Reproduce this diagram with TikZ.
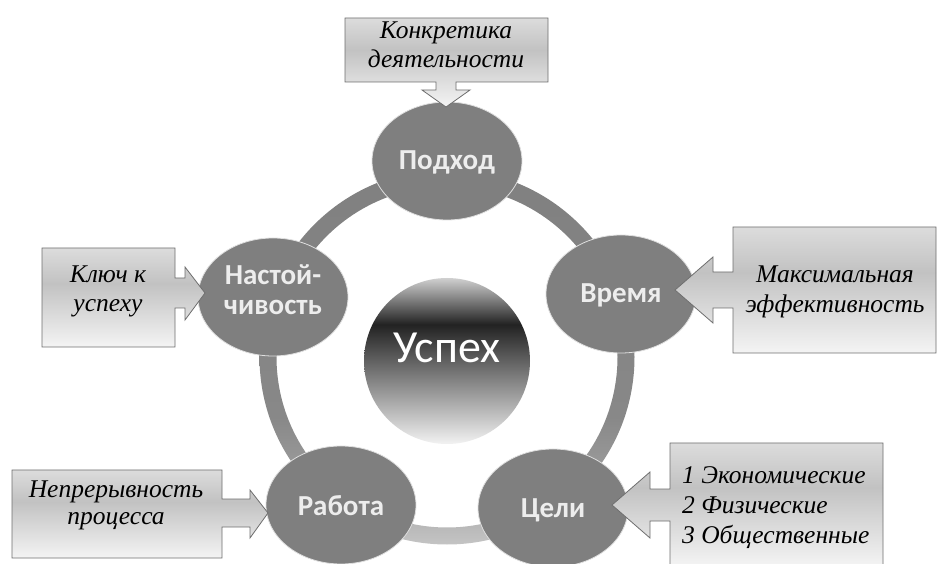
\documentclass[tikz,border=0pt]{standalone}
\usepackage{fontspec}
\setmainfont{Liberation Serif}
\newfontfamily\lbfont{Carlito}
\usetikzlibrary{shapes.geometric}
\definecolor{nodegray}{HTML}{7F7F7F}
\definecolor{labwhite}{HTML}{EDEDED}
\definecolor{bordergray}{HTML}{6E6E6E}
\definecolor{bxtop}{HTML}{DCDCDC}
\definecolor{bxmid}{HTML}{C2C2C2}
\definecolor{bxbot}{HTML}{F4F4F4}
\definecolor{rgbot}{HTML}{C4C4C4}
\definecolor{rglow}{HTML}{A0A0A0}
\definecolor{rgmid}{HTML}{888888}
\definecolor{rgtop}{HTML}{808080}
\definecolor{ctop}{HTML}{D0D0D0}
\definecolor{cdark}{HTML}{222222}
\definecolor{cbot}{HTML}{F2F2F2}
\pgfdeclareverticalshading{boxsh}{100bp}{color(0bp)=(bxbot); color(25bp)=(bxbot); color(57bp)=(bxmid); color(75bp)=(bxtop); color(100bp)=(bxtop)}
\pgfdeclareverticalshading{ringsh}{100bp}{color(0bp)=(rgbot); color(25bp)=(rgbot); color(33bp)=(rglow); color(42bp)=(rgmid); color(75bp)=(rgtop); color(100bp)=(rgtop)}
\pgfdeclareverticalshading{ctrsh}{100bp}{color(0bp)=(cbot); color(25bp)=(cbot); color(61bp)=(cdark); color(75bp)=(ctop); color(100bp)=(ctop)}
\begin{document}
\begin{tikzpicture}[x=1pt,y=1pt,
  ell/.style={ellipse, fill=nodegray, draw=white!75!nodegray, line width=0.8pt, minimum width=150pt, minimum height=118pt, inner sep=0pt},
  lab/.style={font=\lbfont\bfseries\fontsize{29}{30}\selectfont, text=labwhite, anchor=base, inner sep=0pt},
  note/.style={font=\itshape\fontsize{25.5}{29}\selectfont, text=black, anchor=base, inner sep=0pt},
  callout/.style={shade, shading=boxsh, draw=bordergray, line width=0.8pt, line join=miter}]
\useasboundingbox (0,0) rectangle (938,563);
% ring
\coordinate (rc) at (447,206);
\shade[shading=ringsh, even odd rule] (rc) circle (187.5) (rc) circle (170.5);
% centre
\node[circle, minimum size=166pt, inner sep=0pt, shade, shading=ctrsh] (uspeh) at (447,202) {};
\node[font=\lbfont\fontsize{46}{48}\selectfont, text=white, anchor=base, inner sep=0pt] (uspehlab) at (447,200) {Успех};
% outer nodes
\node[ell] (podhod) at (447,402) {};
\node[ell] (vremya) at (621,269) {};
\node[ell] (celi) at (553,55) {};
\node[ell] (rabota) at (341,58) {};
\node[ell] (nastoy) at (273,266) {};
\node[lab] (podhodlab) at (447,393) {Подход};
\node[lab] (vremyalab) at (621,260) {Время};
\node[lab] (celilab) at (553,46) {Цели};
\node[lab] (rabotalab) at (341,48) {Работа};
\node[lab] (nastoylaba) at (273,278) {Настой-};
\node[lab] (nastoylabb) at (273,248) {чивость};
% callouts
\path[callout] (345,545) -- (548,545) -- (548,481) -- (456,481) -- (456,473) -- (470,473) -- (446,456) -- (422,473) -- (436,473) -- (436,481) -- (345,481) -- cycle;
\path[callout] (42,216) -- (42,315) -- (175,315) -- (175,285) -- (185,285) -- (185,296) -- (205,270) -- (185,243) -- (185,255) -- (175,255) -- (175,216) -- cycle;
\path[callout] (733,336) -- (936,336) -- (936,210) -- (733,210) -- (733,255) -- (713,255) -- (713,240) -- (675,273) -- (713,306) -- (713,291) -- (733,291) -- cycle;
\path[callout] (12,5) -- (12,93) -- (222,93) -- (222,64) -- (250,64) -- (250,73) -- (268,50) -- (250,25) -- (250,36) -- (222,36) -- (222,5) -- cycle;
\path[callout] (670,-3) -- (670,42) -- (650,42) -- (650,25) -- (612,58) -- (650,91) -- (650,74) -- (670,74) -- (670,120) -- (883,120) -- (883,-3) -- cycle;
% callout texts
\node[note] (ta) at (446,524) {Конкретика};
\node[note] (tb) at (446,495) {деятельности};
\node[note] (la) at (108,280) {Ключ к};
\node[note] (lb) at (108,251) {успеху};
\node[note] (ra) at (835,280) {Максимальная};
\node[note] (rb) at (835,250) {эффективность};
\node[note] (bla) at (116,66) {Непрерывность};
\node[note] (blb) at (116,38) {процесса};
\node[note, anchor=base west] (bra) at (682,80) {1 Экономические};
\node[note, anchor=base west] (brb) at (682,50) {2 Физические};
\node[note, anchor=base west] (brc) at (682,20) {3 Общественные};
\end{tikzpicture}
\end{document}
